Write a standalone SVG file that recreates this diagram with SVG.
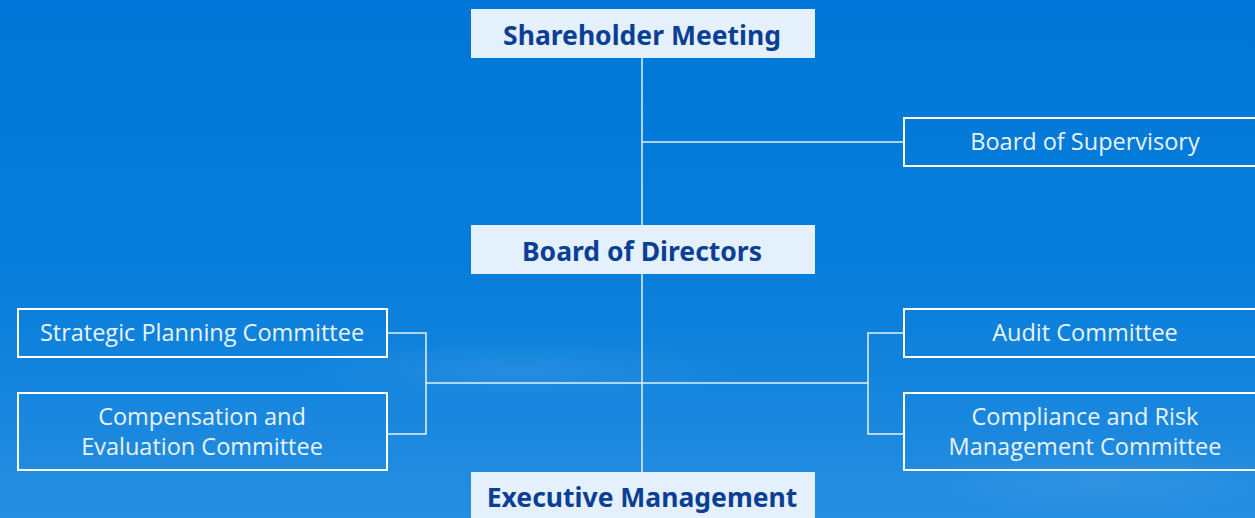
<svg xmlns="http://www.w3.org/2000/svg" width="1255" height="518" viewBox="0 0 1255 518">
<defs>
<linearGradient id="bg" x1="0" y1="0" x2="0" y2="1">
<stop offset="0" stop-color="#0076d8"/>
<stop offset="0.55" stop-color="#087edb"/>
<stop offset="1" stop-color="#268ee1"/>
</linearGradient>
<radialGradient id="cloud" cx="0.5" cy="0.5" r="0.5">
<stop offset="0" stop-color="#ffffff" stop-opacity="0.07"/>
<stop offset="1" stop-color="#ffffff" stop-opacity="0"/>
</radialGradient>
</defs>
<style>
.main rect{fill:#e4f0fb;}
.main text{font-family:"Noto Sans","Liberation Sans",sans-serif;font-weight:bold;font-size:26.5px;fill:#0b3f95;text-anchor:middle;}
.sub rect{fill:none;stroke:#ffffff;stroke-width:2;}
.sub text{font-family:"Open Sans","Noto Sans","Liberation Sans",sans-serif;font-size:23.5px;fill:#eaf3fc;text-anchor:middle;}
.conn{fill:none;stroke:#e6f1fb;stroke-width:1.5;}
</style>
<rect width="1255" height="518" fill="url(#bg)"/>
<ellipse cx="520" cy="370" rx="220" ry="30" fill="url(#cloud)"/>
<ellipse cx="1100" cy="480" rx="200" ry="35" fill="url(#cloud)"/>
<g id="connectors" class="conn">
<path d="M642 58V472"/>
<path d="M642 142H903"/>
<path d="M387 333H426V434H387"/>
<path d="M426 383H868"/>
<path d="M903 333H868V434H903"/>
</g>
<g id="shareholder" class="main"><rect x="471" y="9" width="344" height="49"/><text x="642" y="45">Shareholder Meeting</text></g>
<g id="directors" class="main"><rect x="471" y="225" width="344" height="49"/><text x="642" y="261">Board of Directors</text></g>
<g id="executive" class="main"><rect x="471" y="472" width="344" height="50"/><text x="642" y="507">Executive Management</text></g>
<g id="supervisory" class="sub"><rect x="904" y="118" width="360" height="48"/><text x="1085" y="150">Board of Supervisory</text></g>
<g id="strategic" class="sub"><rect x="18" y="309" width="369" height="48"/><text x="202" y="341">Strategic Planning Committee</text></g>
<g id="compensation" class="sub"><rect x="18" y="393" width="369" height="77"/><text x="202" y="425">Compensation and</text><text x="202" y="455">Evaluation Committee</text></g>
<g id="audit" class="sub"><rect x="904" y="309" width="360" height="48"/><text x="1085" y="341">Audit Committee</text></g>
<g id="compliance" class="sub"><rect x="904" y="393" width="360" height="77"/><text x="1085" y="425">Compliance and Risk</text><text x="1085" y="455">Management Committee</text></g>
</svg>
